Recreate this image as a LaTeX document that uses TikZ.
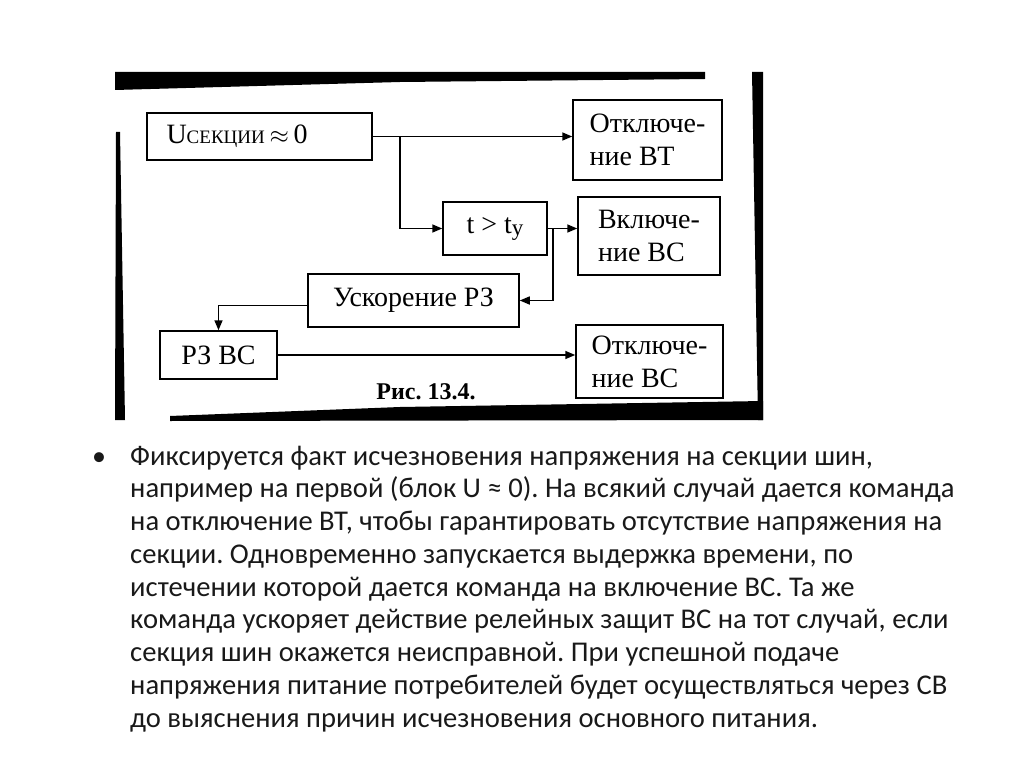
\documentclass[tikz,border=0pt]{standalone}
\usepackage{fontspec}
\setmainfont{Liberation Serif}
\newfontfamily\bodyfont{Carlito}
\usetikzlibrary{arrows.meta}
\frenchspacing
\begin{document}
\begin{tikzpicture}[x=1pt,y=-1pt,
  box/.style={draw, line width=1.5pt, inner sep=0pt, align=left,
    font=\fontsize{28}{33}\selectfont},
  conn/.style={line width=1.5pt},
  arr/.style={conn, -{Triangle[length=10pt,width=8pt]}},
  scan/.style={fill=black},
  bodytext/.style={font=\bodyfont\fontsize{28.6}{32.75}\selectfont,
    anchor=base west, inner sep=0pt, text=black!90}]
\useasboundingbox (0,0) rectangle (1024,767);

% scanned frame edges
\fill[scan] (115,72) -- (705,72) -- (705,79) -- (400,82) -- (115,90) -- cycle;
\fill[scan] (752,72) -- (763,72) -- (763,420) -- (758,420) -- cycle;
\fill[scan] (170,416) -- (400,407) -- (763,401) -- (763,420) -- (170,421) -- cycle;
\fill[scan] (116,132) -- (120,132) -- (125,420) -- (115,420) -- cycle;

% boxes
\node[box, minimum width=225, minimum height=47, text width=186] (b1) at (259.5,136.5)
  {U{\fontsize{19}{19}\selectfont СЕКЦИИ}\,$\approx$\,0};
\node[box, minimum width=149, minimum height=80] (b2) at (647.5,140)
  {Отключе-\\ние ВТ};
\node[box, minimum width=104, minimum height=53] (b3) at (495,228.5)
  {t > t\raisebox{-2pt}{\fontsize{23}{23}\selectfont y}};
\node[box, minimum width=142, minimum height=78] (b4) at (649,236)
  {Включе-\\ние ВС};
\node[box, minimum width=211, minimum height=53] (b5) at (413.5,300.5)
  {Ускорение РЗ};
\node[box, minimum width=117, minimum height=48] (b6) at (218.5,355)
  {РЗ ВС};
\node[box, minimum width=147, minimum height=73] (b7) at (649.5,361.5)
  {Отключе-\\ние ВС};
\node[font=\bfseries\fontsize{24}{24}\selectfont, inner sep=0pt] (cap) at (426,392)
  {Рис. 13.4.};

% connectors
\coordinate (j1) at (400,137);
\coordinate (j2) at (553,228.5);
\draw[arr] (b1.east) -- (b1.east -| b2.west);
\draw[arr] (j1) |- (b3.west);
\draw[arr] (b3.east) -- (b3.east -| b4.west);
\draw[arr] (j2) |- (b5.east);
\draw[arr] ([yshift=-5pt]b5.west) -| (b6.north);
\draw[arr] (b6.east) -- (b6.east -| b7.west);

% body text
\node[font=\bodyfont\fontsize{28}{32.75}\selectfont, anchor=base west, inner sep=0pt, text=black!90] (bul) at (92,465) {•};
\node[bodytext] (l1) at (130,465) {Фиксируется факт исчезновения напряжения на секции шин,};
\node[bodytext] (l2) at (130,497.75) {например на первой (блок U ≈ 0). На всякий случай дается команда};
\node[bodytext] (l3) at (130,530.5) {на отключение ВТ, чтобы гарантировать отсутствие напряжения на};
\node[bodytext] (l4) at (130,563.25) {секции. Одновременно запускается выдержка времени, по};
\node[bodytext] (l5) at (130,596) {истечении которой дается команда на включение ВС. Та же};
\node[bodytext] (l6) at (130,628.75) {команда ускоряет действие релейных защит ВС на тот случай, если};
\node[bodytext] (l7) at (130,661.5) {секция шин окажется неисправной. При успешной подаче};
\node[bodytext] (l8) at (130,694.25) {напряжения питание потребителей будет осуществляться через СВ};
\node[bodytext] (l9) at (130,727) {до выяснения причин исчезновения основного питания.};
\end{tikzpicture}
\end{document}
